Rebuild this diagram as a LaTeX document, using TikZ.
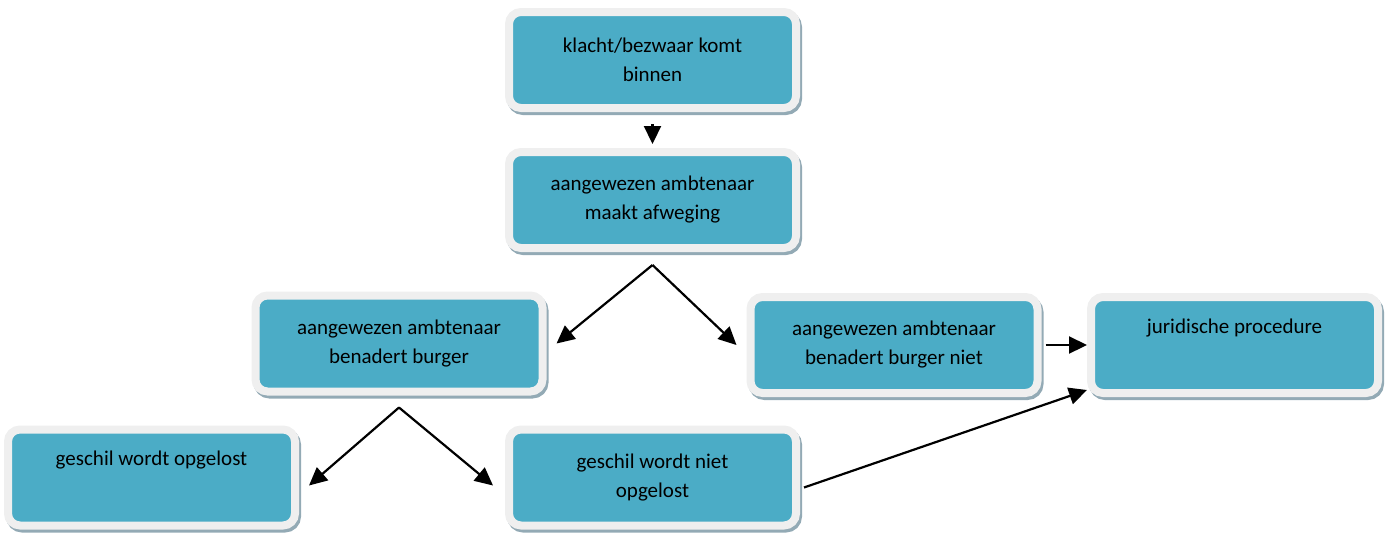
\documentclass[tikz,border=0pt]{standalone}
\usepackage{fontspec}
\setmainfont{Carlito}
\usetikzlibrary{arrows.meta,positioning}

\definecolor{boxteal}{HTML}{4BACC6}
\definecolor{boxframe}{HTML}{EFEFEF}
\definecolor{boxshadow}{HTML}{93AAB5}

\tikzset{
  stap/.style={rectangle, rounded corners=6pt, fill=boxteal, draw=boxframe,
    line width=4pt, minimum width=143.5pt, minimum height=48pt, align=center,
    text=black, font=\fontsize{10.5}{14.5}\selectfont,
    preaction={draw=boxshadow, fill=boxshadow, line width=4pt,
      transform canvas={shift={(1pt,-1.5pt)}}}},
  pijl/.style={->, line width=1.1pt}
}

\begin{document}
\begin{tikzpicture}[x=0.5pt, y=-0.5pt, >={Triangle[length=9pt,width=8.5pt]}]
      \useasboundingbox (0,0) rectangle (1389,532);
      % stappen
      \node[stap] (klacht) at (652.5,60) {klacht/bezwaar komt\\binnen};
      \node[stap] (afweging) at (652.5,200) {aangewezen ambtenaar\\maakt afweging};
      \node[stap] (benadert) at (399,343.5) {aangewezen ambtenaar\\benadert burger};
      \node[stap] (nietbenadert) at (894,345) {aangewezen ambtenaar\\benadert burger niet};
      \node[stap] (juridisch) at (1234.5,345) {juridische procedure\\\strut};
      \node[stap] (opgelost) at (151.5,477.5) {geschil wordt opgelost\\\strut};
      \node[stap] (nietopgelost) at (652.5,477.5) {geschil wordt niet\\opgelost};
      \coordinate[below=6.5pt of afweging] (splitsing1);
      \coordinate[below=6pt of benadert] (splitsing2);
      % pijlen
      \draw[pijl] ([yshift=-6pt]klacht.south) -- ([yshift=2pt]afweging.north);
      \draw[pijl] (splitsing1) -- ([xshift=5pt]benadert.east);
      \draw[pijl] (splitsing1) -- ([xshift=-5pt]nietbenadert.west);
      \draw[pijl] (splitsing2) -- ([xshift=5pt,yshift=-4pt]opgelost.east);
      \draw[pijl] (splitsing2) -- ([xshift=-6pt,yshift=-4pt]nietopgelost.west);
      \draw[pijl] ([xshift=2pt]nietbenadert.east) -- (juridisch.west);
      \draw[pijl] ([xshift=2pt,yshift=-5pt]nietopgelost.east) -- ([yshift=-22.5pt]juridisch.west);
\end{tikzpicture}
\end{document}
